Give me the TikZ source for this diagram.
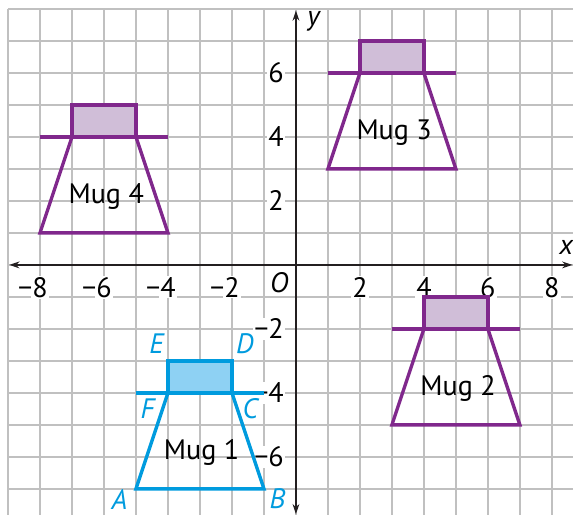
\documentclass[tikz,border=0pt]{standalone}
\usepackage{fontspec}
\setmainfont{PT Sans}
\usetikzlibrary{arrows.meta}
\definecolor{gridgray}{RGB}{192,192,192}
\definecolor{axisblack}{RGB}{35,31,32}
\definecolor{mugpurple}{RGB}{128,40,140}
\definecolor{mugpurplefill}{RGB}{208,190,216}
\definecolor{mugblue}{RGB}{0,155,222}
\definecolor{mugbluefill}{RGB}{142,209,243}

\begin{document}
\begin{tikzpicture}[
  x=0.5cm, y=0.5cm,
  every node/.style={font=\fontsize{12.5}{14}\selectfont, inner sep=1pt},
  gridline/.style={draw=gridgray, line width=0.6pt},
  axisline/.style={draw=axisblack, line width=0.75pt, {Stealth[length=4.5pt,width=3pt]}-{Stealth[length=4.5pt,width=3pt]}},
  mugline/.style={line width=1.5pt, line join=miter},
  ticklabel/.style={fill=white, inner sep=0.5pt},
  vertexlabel/.style={text=mugblue, font=\fontsize{12.5}{14}\selectfont\itshape}
]
\useasboundingbox (-9.25,-7.81) rectangle (8.66,8.28);
\foreach \x in {-9,...,8} \draw[gridline] (\x,-7.81) -- (\x,8);
\foreach \y in {-7,...,8} \draw[gridline] (-9,\y) -- (8.66,\y);

\coordinate (xleft) at (-8.96,0);
\coordinate (xright) at (8.64,0);
\coordinate (ybottom) at (0,-7.79);
\coordinate (ytop) at (0,7.95);
\draw[axisline] (xleft) -- (xright);
\draw[axisline] (ybottom) -- (ytop);
\node (xlabel) at (8.45,0.55) {\itshape x};
\node (ylabel) at (0.55,7.6) {\itshape y};
\node (origin) at (-0.52,-0.56) {\itshape O};

\foreach \x in {2,4,6,8} {
  \node[ticklabel] (tx\x) at (\x,-0.7) {\x};
  \node[ticklabel] (tnx\x) at (-\x,-0.7) {\llap{−}\x};
}
\foreach \y in {2,4,6} {
  \node[ticklabel, anchor=east] (ty\y) at (-0.33,\y) {\y};
  \node[ticklabel, anchor=east] (tny\y) at (-0.33,-\y) {−\y};
}

\foreach \a/\b/\n in {3/-5/2, 1/3/3, -8/1/4} {
  \fill[mugpurplefill] (\a+1,\b+3) rectangle (\a+3,\b+4);
  \draw[mugline, mugpurple] (\a+1,\b+3) rectangle (\a+3,\b+4);
  \draw[mugline, mugpurple] (\a,\b+3) -- (\a+4,\b+3);
  \draw[mugline, mugpurple] (\a,\b) -- (\a+4,\b) -- (\a+3,\b+3) -- (\a+1,\b+3) -- cycle;
  \node (mug\n) at (\a+2.07,\b+1.14) {Mug \n};
}

\coordinate (A) at (-5,-7);
\coordinate (B) at (-1,-7);
\coordinate (C) at (-2,-4);
\coordinate (D) at (-2,-3);
\coordinate (E) at (-4,-3);
\coordinate (F) at (-4,-4);
\fill[mugbluefill] (F) rectangle (D);
\draw[mugline, mugblue] (F) rectangle (D);
\draw[mugline, mugblue] (-5,-4) -- (-1,-4);
\draw[mugline, mugblue] (A) -- (B) -- (C) -- (F) -- cycle;
\node (mug1) at (-2.95,-5.86) {Mug 1};
\node[vertexlabel] (labA) at (-5.52,-7.32) {A};
\node[vertexlabel] (labB) at (-0.58,-7.32) {B};
\node[vertexlabel] (labC) at (-1.43,-4.5) {C};
\node[vertexlabel] (labD) at (-1.6,-2.47) {D};
\node[vertexlabel] (labE) at (-4.36,-2.47) {E};
\node[vertexlabel] (labF) at (-4.64,-4.5) {F};
\end{tikzpicture}
\end{document}
